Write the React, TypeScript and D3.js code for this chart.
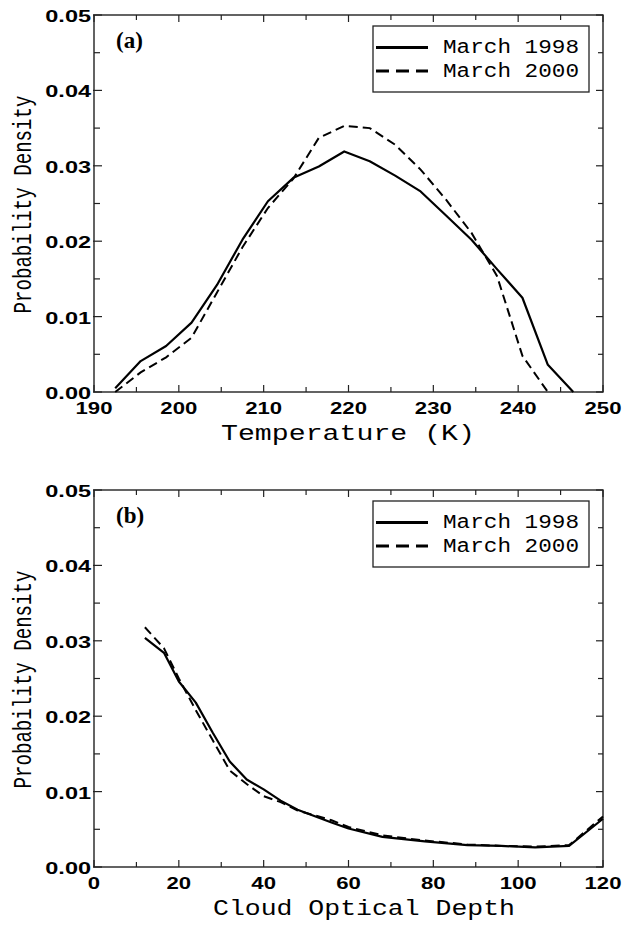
import * as d3 from "d3";

// panel (a): temperature pdf
const tempK = [192.5, 195.5, 198.5, 201.5, 204.5, 207.5, 210.5, 213.5, 216.5, 219.5, 222.5, 225.5, 228.5, 231.5, 234.5, 237.5, 240.5, 243.5, 246.5];
const temp1998 = [0.0005, 0.0041, 0.0061, 0.0092, 0.0142, 0.0202, 0.0253, 0.0284, 0.0299, 0.0319, 0.0306, 0.0287, 0.0266, 0.0234, 0.0202, 0.0163, 0.0125, 0.0036, 0.0];
const temp2000 = [0.0, 0.0026, 0.0046, 0.0072, 0.0132, 0.0192, 0.0244, 0.0283, 0.0337, 0.0353, 0.035, 0.0328, 0.0295, 0.0255, 0.0211, 0.0154, 0.0048, 0.0];

// panel (b): cloud optical depth pdf
const tau = [12, 16.5, 20, 24, 28, 32, 36, 40, 44, 48, 56, 60, 68, 78, 88, 96, 104, 112, 120];
const tau1998 = [0.0304, 0.0284, 0.0246, 0.0218, 0.0178, 0.014, 0.0116, 0.0103, 0.0088, 0.0076, 0.0059, 0.0051, 0.004, 0.0034, 0.0029, 0.0028, 0.0026, 0.0028, 0.0064];
const tau2000 = [0.0318, 0.029, 0.025, 0.0208, 0.0168, 0.0128, 0.011, 0.0094, 0.0086, 0.0075, 0.0062, 0.0053, 0.0042, 0.0035, 0.003, 0.0028, 0.0027, 0.0029, 0.0067];

const yTicks = [0, 0.01, 0.02, 0.03, 0.04, 0.05];
const seriesNames = ["March 1998", "March 2000"];

const tickFont = "'Liberation Sans', Arial, sans-serif";
const monoFont = "'Courier New', 'Liberation Mono', monospace";

// wide bold tick lettering
const labelWidth = (s: string) => [...s].reduce((w, c) => w + (c === "." ? 8.8 : 12.3), 0);

type PanelProps = {
  top: number;
  tag: string;
  xDomain: [number, number];
  xMajor: number[];
  xMinor: number[];
  xs: number[];
  a: number[];
  b: number[];
  xTitle: string;
  xTitleX: number;
  xTitleLen: number;
};

const left = 94;
const right = 603;
const plotH = 377;

function Panel({ top, tag, xDomain, xMajor, xMinor, xs, a, b, xTitle, xTitleX, xTitleLen }: PanelProps) {
  const bottom = top + plotH;
  const x = d3.scaleLinear().domain(xDomain).range([left, right]);
  const y = d3.scaleLinear().domain([0, 0.05]).range([bottom, top]);
  const yMinor = d3.range(0.005, 0.05, 0.01);

  const line = d3
    .line<[number, number]>()
    .x((d) => x(d[0]))
    .y((d) => y(d[1]));

  const solid = line(xs.map((v, i) => [v, a[i]]) as [number, number][]);
  const dashed = line(b.map((v, i) => [xs[i], v]) as [number, number][]);

  const lgTop = top + 11;
  return (
    <g>
      {/* ticks */}
      {xMajor.map((t) => (
        <g key={"xm" + t}>
          <line x1={x(t)} x2={x(t)} y1={bottom} y2={bottom - 7} stroke="#222" strokeWidth={1.2} />
          <line x1={x(t)} x2={x(t)} y1={top} y2={top + 7} stroke="#222" strokeWidth={1.2} />
        </g>
      ))}
      {xMinor.map((t) => (
        <g key={"xn" + t}>
          <line x1={x(t)} x2={x(t)} y1={bottom} y2={bottom - 5} stroke="#222" strokeWidth={1.2} />
          <line x1={x(t)} x2={x(t)} y1={top} y2={top + 5} stroke="#222" strokeWidth={1.2} />
        </g>
      ))}
      {yTicks.map((t) => (
        <g key={"ym" + t}>
          <line x1={left - 1} x2={left + 8} y1={y(t)} y2={y(t)} stroke="#222" strokeWidth={1.2} />
          <line x1={right} x2={right - 7} y1={y(t)} y2={y(t)} stroke="#222" strokeWidth={1.2} />
        </g>
      ))}
      {yMinor.map((t) => (
        <g key={"yn" + t}>
          <line x1={left} x2={left + 6} y1={y(t)} y2={y(t)} stroke="#222" strokeWidth={1.2} />
          <line x1={right} x2={right - 5} y1={y(t)} y2={y(t)} stroke="#222" strokeWidth={1.2} />
        </g>
      ))}
      <rect x={left} y={top} width={right - left} height={plotH} fill="none" stroke="#222" strokeWidth={1.4} />

      {/* tick labels */}
      {xMajor.map((t) => {
        const s = String(t);
        return (
          <text key={"xl" + t} x={x(t)} y={bottom + 22} textAnchor="middle" fontFamily={tickFont} fontWeight="bold" fontSize={16} textLength={labelWidth(s)} lengthAdjust="spacingAndGlyphs">
            {s}
          </text>
        );
      })}
      {yTicks.map((t) => {
        const s = d3.format(".2f")(t);
        return (
          <text key={"yl" + t} x={91} y={y(t) + 7} textAnchor="end" fontFamily={tickFont} fontWeight="bold" fontSize={16} textLength={labelWidth(s)} lengthAdjust="spacingAndGlyphs">
            {s}
          </text>
        );
      })}

      {/* axis titles */}
      <text x={xTitleX} y={bottom + 48} fontFamily={monoFont} fontSize={22} textLength={xTitleLen} lengthAdjust="spacingAndGlyphs">
        {xTitle}
      </text>
      <text
        transform={`translate(31, ${(top + bottom) / 2 + 1}) rotate(-90)`}
        textAnchor="middle"
        fontFamily={monoFont}
        fontSize={26}
        textLength={218}
        lengthAdjust="spacingAndGlyphs"
      >
        Probability Density
      </text>

      {/* panel tag */}
      <text x={116} y={top + 33} fontFamily="'Liberation Serif', 'Times New Roman', serif" fontWeight="bold" fontSize={23}>
        {tag}
      </text>

      {/* curves */}
      <path d={solid ?? ""} fill="none" stroke="#000" strokeWidth={2.2} strokeLinejoin="round" />
      <path d={dashed ?? ""} fill="none" stroke="#000" strokeWidth={2} strokeDasharray="9 5" />

      {/* legend */}
      <rect x={373} y={lgTop} width={216} height={66} fill="#fff" stroke="#222" strokeWidth={1.3} />
      <line x1={376} x2={428} y1={lgTop + 21.5} y2={lgTop + 21.5} stroke="#000" strokeWidth={3} />
      <line x1={376} x2={428} y1={lgTop + 45} y2={lgTop + 45} stroke="#000" strokeWidth={3} strokeDasharray="13 7" />
      {seriesNames.map((n, i) => (
        <text key={n} x={443} y={lgTop + 27 + i * 23.5} fontFamily={monoFont} fontSize={20} textLength={136} lengthAdjust="spacingAndGlyphs">
          {n}
        </text>
      ))}
    </g>
  );
}

export default function App() {
  return (
    <svg width={623} height={926} style={{ position: "absolute", left: 0, top: 0, background: "#fff" }}>
      <Panel
        top={15}
        tag="(a)"
        xDomain={[190, 250]}
        xMajor={d3.range(190, 251, 10)}
        xMinor={d3.range(195, 250, 10)}
        xs={tempK}
        a={temp1998}
        b={temp2000}
        xTitle="Temperature (K)"
        xTitleX={221}
        xTitleLen={254}
      />
      <Panel
        top={490}
        tag="(b)"
        xDomain={[0, 120]}
        xMajor={d3.range(0, 121, 20)}
        xMinor={d3.range(10, 120, 20)}
        xs={tau}
        a={tau1998}
        b={tau2000}
        xTitle="Cloud Optical Depth"
        xTitleX={213}
        xTitleLen={302}
      />
    </svg>
  );
}
